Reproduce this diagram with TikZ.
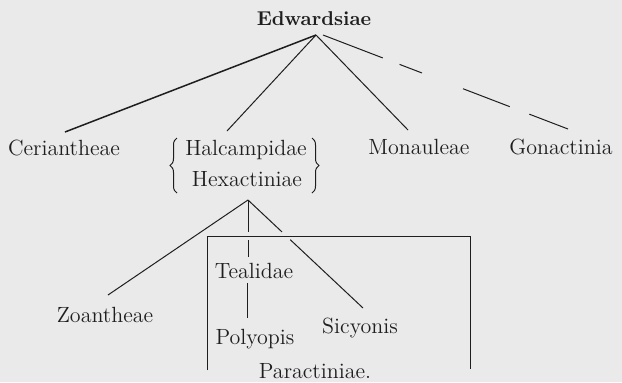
\documentclass[tikz,border=0pt]{standalone}
\usepackage{tikz}
\usetikzlibrary{calc, decorations.pathreplacing}
\definecolor{paper}{HTML}{EAEAEA}
\definecolor{ink}{HTML}{1E1E1E}
\tikzset{
  taxon/.style     = {font=\fontsize{11}{13}\selectfont, text=ink, anchor=base, inner sep=0pt},
  roottaxon/.style = {taxon, font=\fontsize{10}{12}\selectfont\bfseries},
  branch/.style    = {draw=ink, line width=0.5pt},
  bracket/.style   = {draw=ink, line width=0.5pt, decorate,
                      decoration={brace, amplitude=3.5pt}},
}

\begin{document}
\begin{tikzpicture}[x=0.5pt, y=-0.5pt]
  \fill[paper] (0,0) rectangle (622,382);
  \useasboundingbox (0,0) rectangle (622,382);
  \node[roottaxon] (edw) at (314,25) {Edwardsiae};
  \node[taxon] (cer) at (64,155) {Ceriantheae};
  \node[taxon] (hal) at (246,155) {Halcampidae};
  \node[taxon] (hex) at (247,186) {Hexactiniae};
  \node[taxon] (mon) at (419,154) {Monauleae};
  \node[taxon] (gon) at (561,154) {Gonactinia};
  \node[taxon] (zoa) at (105,322) {Zoantheae};
  \node[taxon] (tea) at (254,278) {Tealidae};
  \node[taxon] (pol) at (255,344) {Polyopis};
  \node[taxon] (sic) at (360,333) {Sicyonis};
  \node[taxon] (par) at (315,378) {Paractiniae.};
  \coordinate (E) at (316,35);
  \coordinate (Ecer) at (65,132);
  \coordinate (Ehal) at (227,131);
  \coordinate (Emon) at (408,130);
  \coordinate (Egon0) at (323,35);
  \coordinate (Egon) at (568,129);
  \coordinate (X) at (248,200);
  \coordinate (Xzoa) at (108,295);
  \coordinate (Xtea) at (248,257);
  \coordinate (Xsic) at (363,308);
  \coordinate (Tpol) at (247,283);
  \coordinate (Pol) at (247,318);
  \draw[branch, line width=0.75pt] (E) -- (Ecer);
  \draw[branch] (E) -- (Ehal);
  \draw[branch] (E) -- (Emon);
  \draw[branch, dash pattern=on 32pt off 9pt on 12pt off 22pt on 25pt off 10.5pt on 21pt]
    (Egon0) -- (Egon);
  \draw[bracket] (177,193) -- (177,138);
  \draw[bracket] (312,138) -- (312,193);
  \draw[branch] (X) -- (Xzoa);
  \draw[branch, dash pattern=on 16pt off 4pt on 30pt] (X) -- (Xtea);
  \draw[branch, dash pattern=on 23.3pt off 5.7pt on 60pt] (X) -- (Xsic);
  \draw[branch] (Tpol) -- (Pol);
  % open box round the Paractiniae
  \draw[branch] (207,370) -- (207,236) -- (470,236) -- (470,369);
\end{tikzpicture}
\end{document}
